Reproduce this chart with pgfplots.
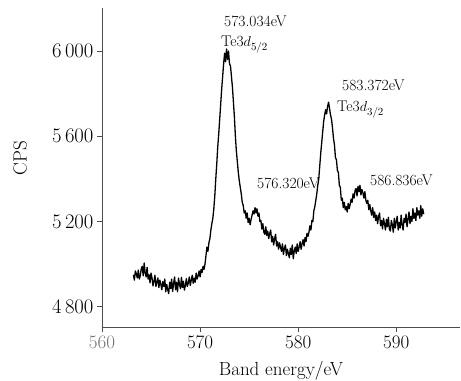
\documentclass[border=0pt]{standalone}
\usepackage{pgfplots}
\pgfplotsset{compat=1.18}
\begin{document}
\begin{tikzpicture}
\useasboundingbox (-102bp,-54bp) rectangle (359bp,327bp);
\begin{axis}[
 at={(0,0)}, anchor=south west,
 scale only axis, width=358bp, height=319bp,
 xmin=560, xmax=596.5, ymin=4705, ymax=6202,
 axis x line*=bottom, axis y line*=left,
 axis line style={draw=black!70, line width=0.9pt},
 tick align=outside, major tick length=5bp,
 tick style={draw=black!70, line width=0.8pt},
 xtick={560,570,580,590}, xticklabels={\textcolor{black!55}{560},570,580,590},
 ytick={4800,5200,5600,6000},
 /pgf/number format/1000 sep={\,},
 tick label style={font=\fontsize{19bp}{22bp}\selectfont},
 label style={font=\fontsize{19bp}{22bp}\selectfont},
 xlabel={Band energy/eV}, ylabel={CPS},
 xlabel style={at={(axis description cs:0.5,-0.1536)}, anchor=base},
 ylabel style={at={(axis description cs:-0.229,0.53)}, anchor=center},
 clip=false,
]
\addplot[black, line width=1.3pt, line join=round] coordinates {
(563.2,4950)(563.3,4925)(563.4,4968)(563.5,4955)(563.6,4935)(563.7,4972)(563.8,4930)(563.9,4945)
(564.0,4978)(564.1,4990)(564.2,4945)(564.3,5005)(564.4,4960)(564.5,4940)(564.6,4985)(564.7,4930)
(564.8,4950)(564.9,4912)(565.0,4958)(565.1,4935)(565.2,4898)(565.3,4920)(565.4,4948)(565.5,4895)
(565.6,4915)(565.7,4935)(565.8,4890)(565.9,4925)(566.0,4905)(566.1,4880)(566.2,4918)(566.3,4895)
(566.4,4930)(566.5,4870)(566.6,4905)(566.7,4880)(566.8,4862)(566.9,4915)(567.0,4885)(567.1,4930)
(567.2,4872)(567.3,4908)(567.4,4940)(567.5,4880)(567.6,4915)(567.7,4870)(567.8,4935)(567.9,4905)
(568.0,4885)(568.1,4938)(568.2,4890)(568.3,4920)(568.4,4878)(568.5,4900)(568.6,4932)(568.7,4895)
(568.8,4912)(568.9,4940)(569.0,4900)(569.1,4925)(569.2,4948)(569.3,4910)(569.4,4935)(569.5,4915)
(569.6,4958)(569.7,4930)(569.8,4945)(569.9,4968)(570.0,4940)(570.1,4975)(570.2,4960)(570.3,4990)
(570.4,4975)(570.5,5000)(570.6,5040)(570.7,5080)(570.8,5060)(570.9,5100)(571.0,5120)(571.1,5160)
(571.2,5190)(571.3,5215)(571.4,5260)(571.5,5320)(571.6,5400)(571.7,5470)(571.8,5550)(571.9,5610)
(572.0,5680)(572.1,5750)(572.2,5820)(572.3,5880)(572.4,5940)(572.5,5990)(572.6,5950)(572.7,6010)
(572.8,5960)(572.9,6000)(573.0,5940)(573.1,5930)(573.2,5880)(573.3,5830)(573.4,5760)(573.5,5690)
(573.6,5600)(573.7,5530)(573.8,5480)(573.9,5430)(574.0,5390)(574.1,5360)(574.2,5330)(574.3,5290)
(574.4,5275)(574.5,5240)(574.6,5250)(574.7,5215)(574.8,5240)(574.9,5195)(575.0,5215)(575.1,5185)
(575.2,5210)(575.3,5230)(575.4,5250)(575.5,5235)(575.6,5265)(575.7,5240)(575.8,5260)(575.9,5225)
(576.0,5240)(576.1,5200)(576.2,5205)(576.3,5165)(576.4,5190)(576.5,5150)(576.6,5140)(576.7,5175)
(576.8,5135)(576.9,5155)(577.0,5120)(577.1,5145)(577.2,5160)(577.3,5105)(577.4,5130)(577.5,5090)
(577.6,5120)(577.7,5140)(577.8,5085)(577.9,5105)(578.0,5070)(578.1,5100)(578.2,5080)(578.3,5060)
(578.4,5095)(578.5,5045)(578.6,5075)(578.7,5090)(578.8,5040)(578.9,5070)(579.0,5050)(579.1,5030)
(579.2,5075)(579.3,5045)(579.4,5090)(579.5,5025)(579.6,5060)(579.7,5080)(579.8,5050)(579.9,5095)
(580.0,5060)(580.1,5080)(580.2,5105)(580.3,5070)(580.4,5095)(580.5,5115)(580.6,5085)(580.7,5125)
(580.8,5105)(580.9,5145)(581.0,5130)(581.1,5150)(581.2,5180)(581.3,5160)(581.4,5205)(581.5,5200)
(581.6,5250)(581.7,5270)(581.8,5300)(581.9,5330)(582.0,5370)(582.1,5400)(582.2,5460)(582.3,5520)
(582.4,5570)(582.5,5620)(582.6,5670)(582.7,5700)(582.8,5725)(582.9,5705)(583.0,5740)(583.1,5760)
(583.2,5730)(583.3,5700)(583.4,5680)(583.5,5640)(583.6,5590)(583.7,5560)(583.8,5500)(583.9,5490)
(584.0,5440)(584.1,5430)(584.2,5370)(584.3,5360)(584.4,5300)(584.5,5310)(584.6,5265)(584.7,5290)
(584.8,5255)(584.9,5270)(585.0,5245)(585.1,5285)(585.2,5260)(585.3,5280)(585.4,5305)(585.5,5290)
(585.6,5330)(585.7,5310)(585.8,5345)(585.9,5355)(586.0,5320)(586.1,5365)(586.2,5340)(586.3,5370)
(586.4,5325)(586.5,5350)(586.6,5335)(586.7,5310)(586.8,5340)(586.9,5300)(587.0,5285)(587.1,5300)
(587.2,5255)(587.3,5280)(587.4,5250)(587.5,5230)(587.6,5265)(587.7,5220)(587.8,5245)(587.9,5205)
(588.0,5230)(588.1,5190)(588.2,5225)(588.3,5240)(588.4,5180)(588.5,5205)(588.6,5165)(588.7,5215)
(588.8,5190)(588.9,5160)(589.0,5210)(589.1,5175)(589.2,5220)(589.3,5165)(589.4,5155)(589.5,5205)
(589.6,5185)(589.7,5150)(589.8,5215)(589.9,5170)(590.0,5200)(590.1,5225)(590.2,5160)(590.3,5195)
(590.4,5170)(590.5,5230)(590.6,5185)(590.7,5160)(590.8,5215)(590.9,5195)(591.0,5235)(591.1,5175)
(591.2,5210)(591.3,5245)(591.4,5190)(591.5,5225)(591.6,5200)(591.7,5260)(591.8,5215)(591.9,5240)
(592.0,5205)(592.1,5265)(592.2,5230)(592.3,5250)(592.4,5215)(592.5,5275)(592.6,5225)(592.7,5260)
(592.8,5235)
};
\begin{scope}[every node/.style={anchor=base west, inner sep=0pt, font=\fontsize{15.5bp}{18bp}\selectfont}]
\node at (axis cs:572.44,6113) {573.034eV};
\node at (axis cs:572.13,6019) {Te3$d_{5/2}$};
\node at (axis cs:584.47,5817) {583.372eV};
\node at (axis cs:583.96,5714) {Te3$d_{3/2}$};
\node at (axis cs:575.8,5357) {576.320eV};
\node at (axis cs:587.32,5371) {586.836eV};
\end{scope}
\end{axis}
\end{tikzpicture}
\end{document}
